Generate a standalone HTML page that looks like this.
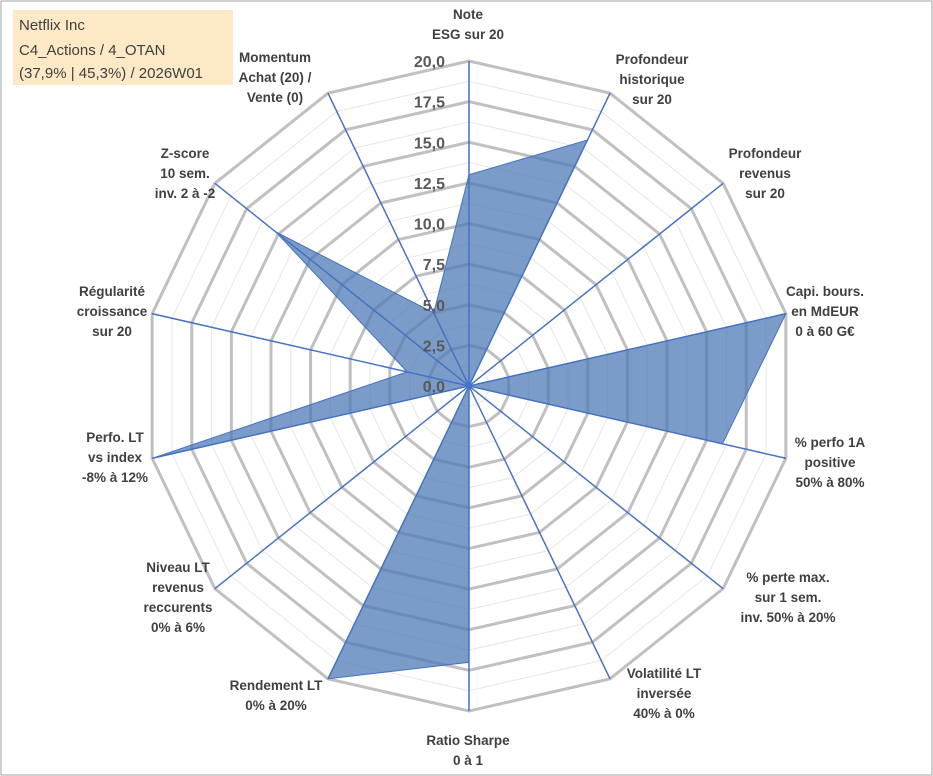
<!DOCTYPE html>
<html><head><meta charset="utf-8"><style>
body{margin:0;background:#fff}
svg{display:block;font-family:"Liberation Sans",Arial,sans-serif}
</style></head><body>
<svg width="933" height="776" viewBox="0 0 933 776">
<rect x="1" y="1" width="931" height="774" fill="#fff" stroke="#a0a0a0" stroke-width="1"/>
<g id="grid"></g><g id="axes"></g><g id="series"></g><g id="ticks"></g><g id="labels"></g>
<g>
<rect x="13" y="10" width="220" height="75" fill="#fde9c6"/>
<text x="19" y="30" font-size="15" fill="#404040">Netflix Inc</text>
<text x="19" y="55" font-size="15" fill="#404040">C4_Actions / 4_OTAN</text>
<text x="19" y="78" font-size="15" fill="#404040">(37,9% | 45,3%) / 2026W01</text>
</g>
</svg>
<script>
const categories=[["Note","ESG sur 20"],["Profondeur","historique","sur 20"],["Profondeur","revenus","sur 20"],["Capi. bours.","en MdEUR","0 à 60 G€"],["% perfo 1A","positive","50% à 80%"],["% perte max.","sur 1 sem.","inv. 50% à 20%"],["Volatilité LT","inversée","40% à 0%"],["Ratio Sharpe","0 à 1"],["Rendement LT","0% à 20%"],["Niveau LT","revenus","reccurents","0% à 6%"],["Perfo. LT","vs index","-8% à 12%"],["Régularité","croissance","sur 20"],["Z-score","10 sem.","inv. 2 à -2"],["Momentum","Achat (20) /","Vente (0)"]];
const values=[13,16.8,0,20,16,0,0,17,20,0,20,3.9,15.2,5];
const tickLabels=["0,0","2,5","5,0","7,5","10,0","12,5","15,0","17,5","20,0"];
const labelPos=[[468,19],[652,64],[765,158],[825,296],[830,447],[788,582],[664,678],[468,745],[276,690],[178,572],[115,442],[112,296],[185,158],[275,62]];
const NS="http://www.w3.org/2000/svg",cx=469,cy=386,R=325,maxV=20,N=categories.length;
function rr(v){return v/maxV*R}
function pt(i,v){const a=i*2*Math.PI/N;return [cx+rr(v)*Math.sin(a),cy-rr(v)*Math.cos(a)]}
function mk(t,at,p){const e=document.createElementNS(NS,t);for(const k in at)e.setAttribute(k,at[k]);p.appendChild(e);return e}
const grid=document.getElementById('grid');
for(let k=1;k<=16;k++){const v=k*1.25;const pts=[];for(let i=0;i<N;i++)pts.push(pt(i,v).join(','));
const major=k%2==0;
const e=mk('polygon',{points:pts.join(' '),fill:'none',stroke:major?'#c0c0c0':'#e6e6e6','stroke-width':major?3:1},grid);

}
const axes=document.getElementById('axes');
for(let i=0;i<N;i++){const p=pt(i,maxV);const e=mk('line',{x1:cx,y1:cy,x2:p[0],y2:p[1],stroke:'#4472c4','stroke-width':1.3},axes);

}
const ser=document.getElementById('series');
const sp=values.map((v,i)=>pt(i,v).join(',')).join(' ');
const poly=mk('polygon',{points:sp,fill:'#4f7ab5','fill-opacity':0.75,stroke:'#4472c4','stroke-width':1},ser);


for(let i=0;i<N;i++){const p=pt(i,maxV);const e=mk('line',{x1:cx,y1:cy,x2:p[0],y2:p[1],stroke:'#4472c4','stroke-width':1.3},ser);

}
const tk=document.getElementById('ticks');
tickLabels.forEach((t,k)=>{const e=mk('text',{x:cx-24,y:cy-rr(k*2.5)+6,'text-anchor':'end','font-size':16,'font-weight':'bold',fill:'#595959'},tk);e.textContent=t;

});
const lb=document.getElementById('labels');
categories.forEach((c,i)=>{const g=mk('text',{'text-anchor':'middle','font-size':13.5,'font-weight':'bold',fill:'#404040'},lb);


c.forEach((ln,j)=>{const s=mk('tspan',{x:labelPos[i][0],y:labelPos[i][1]+j*20},g);s.textContent=ln;});});
</script>
</body></html>
